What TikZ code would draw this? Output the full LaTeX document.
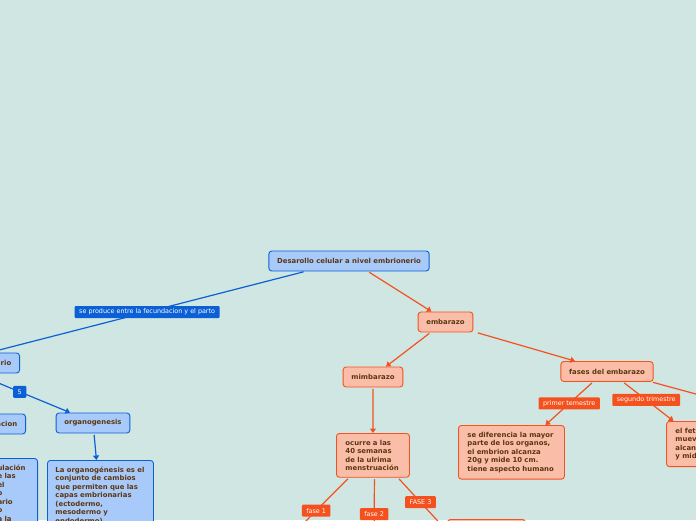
\documentclass[tikz,border=0pt]{standalone}
\usepackage{fontspec}
\setmainfont{DejaVu Sans}
\usepackage{xcolor}
\usepackage{tikz}
\usetikzlibrary{arrows.meta, positioning, calc}
\definecolor{bgteal}{RGB}{207,230,227}
\definecolor{mapblue}{RGB}{12,96,214}
\definecolor{blueface}{RGB}{168,202,250}
\definecolor{maporange}{RGB}{244,81,30}
\definecolor{orangeface}{RGB}{250,190,168}
\definecolor{inkbrown}{RGB}{92,54,16}

\begin{document}
\begin{tikzpicture}[
    x=1pt, y=-1pt,
    box/.style={rectangle, rounded corners=3pt, line width=0.9pt, text=inkbrown, minimum height=20pt, inner xsep=8.3pt, inner ysep=6.5pt, font=\bfseries\fontsize{6.9}{8.5}\selectfont},
    bluebox/.style={box, draw=mapblue, fill=blueface},
    orangebox/.style={box, draw=maporange, fill=orangeface},
    bluetext/.style={bluebox, align=left, inner xsep=8pt},
    orangetext/.style={orangebox, align=left, inner xsep=9pt},
    tag/.style={rectangle, rounded corners=1pt, text=white, minimum height=12pt, minimum width=12pt, inner xsep=4.5pt, inner ysep=1.5pt, font=\fontsize{6.4}{7}\selectfont},
    bluetag/.style={tag, fill=mapblue},
    orangetag/.style={tag, fill=maporange},
    bluearrow/.style={-{Triangle[width=6pt,length=4.5pt]}, line width=1.2pt, draw=mapblue, shorten <=1.5pt},
    orangearrow/.style={-{Triangle[width=6pt,length=4.5pt]}, line width=1.2pt, draw=maporange, shorten <=1.5pt},
]
\useasboundingbox (0,0) rectangle (696,520);
\clip (0,0) rectangle (696,520);
\fill[bgteal] (0,0) rectangle (696,520);

% root and blue branch
\node[bluebox] (root) at (349,261) {Desarollo celular a nivel embrionerio};
\node[bluebox, text width=44pt, align=right, anchor=east] (embrio) at (20,363) {rio};
\node[bluebox, text width=40pt, align=right, anchor=east] (gastru) at (26,424) {acion};
\node[bluebox] (organo) at (93,423) {organogenesis};
\node[bluetext, text width=32pt, anchor=north east] (gastrutext) at (38,458) {ulación\\e las\\el\\o\\ario\\o\\a la};
\node[bluetext, text width=90pt, anchor=north west] (organotext) at (47,460) {La organogénesis es el\\conjunto de cambios\\que permiten que las\\capas embrionarias\\(ectodermo,\\mesodermo y\\endodermo)};

% orange branch
\node[orangebox] (embarazo) at (445.5,322) {embarazo};
\node[orangebox] (mimbarazo) at (373,377) {mimbarazo};
\node[orangebox] (fases) at (607,371.5) {fases del embarazo};
\node[orangetext, text width=55pt, anchor=north west] (ocurre) at (336,433) {ocurre a las\\40 semanas\\de la ulrima\\menstruación};
\node[orangetext, text width=88pt, anchor=north west] (primerbox) at (458,425) {se diferencia la mayor\\parte de los organos,\\el embrion alcanza\\20g y mide 10 cm.\\tiene aspecto humano};
\node[orangetext, text width=88pt, anchor=north west] (segundobox) at (666,421) {el feto\\mueve\\alcanza\\y mide};
\node[orangebox, minimum width=78pt, minimum height=30pt, anchor=north west] (fasetres) at (447,519) {};

\coordinate (faseright) at (740,406);
\coordinate (fase1end) at (286,541);
\coordinate (fase2end) at (374,545);

% blue connectors
\draw[bluearrow] ([xshift=-44pt]root.south) -- (embrio.north) node[bluetag, pos=0.5] {se produce entre la fecundacion y el parto};
\draw[bluearrow] ([xshift=-14pt]embrio.south) -- ([xshift=-23pt]organo.north) node[bluetag, pos=0.47] {5};
\draw[bluearrow] ([xshift=1pt]organo.south) -- ([xshift=-4pt]organotext.north);

% orange connectors
\draw[orangearrow] ([xshift=19pt]root.south) -- ([xshift=-14pt]embarazo.north);
\draw[orangearrow] ([xshift=-15pt]embarazo.south) -- ([xshift=13pt]mimbarazo.north);
\draw[orangearrow] ([xshift=3pt]embarazo.south east) -- ([xshift=-32pt]fases.north);
\draw[orangearrow] (mimbarazo.south) -- (ocurre.north);
\draw[orangearrow] ([xshift=-14pt]fases.south) -- ([xshift=34pt]primerbox.north) node[orangetag, pos=0.5] {primer temestre};
\draw[orangearrow] ([xshift=16pt]fases.south) -- ([xshift=-46pt]segundobox.north) node[orangetag, pos=0.46] {segundo trimestre};
\draw[orangearrow] ([xshift=-2pt]fases.south east) -- (faseright);
\draw[orangearrow] ([xshift=-24pt]ocurre.south) -- (fase1end) node[orangetag, pos=0.52] {fase 1};
\draw[orangearrow] ([xshift=1.5pt]ocurre.south) -- (fase2end) node[orangetag, pos=0.54] {fase 2};
\draw[orangearrow] ([xshift=25pt]ocurre.south) -- ([yshift=-12pt]fasetres.north west) node[orangetag, pos=0.46] {FASE 3};

\end{tikzpicture}
\end{document}
